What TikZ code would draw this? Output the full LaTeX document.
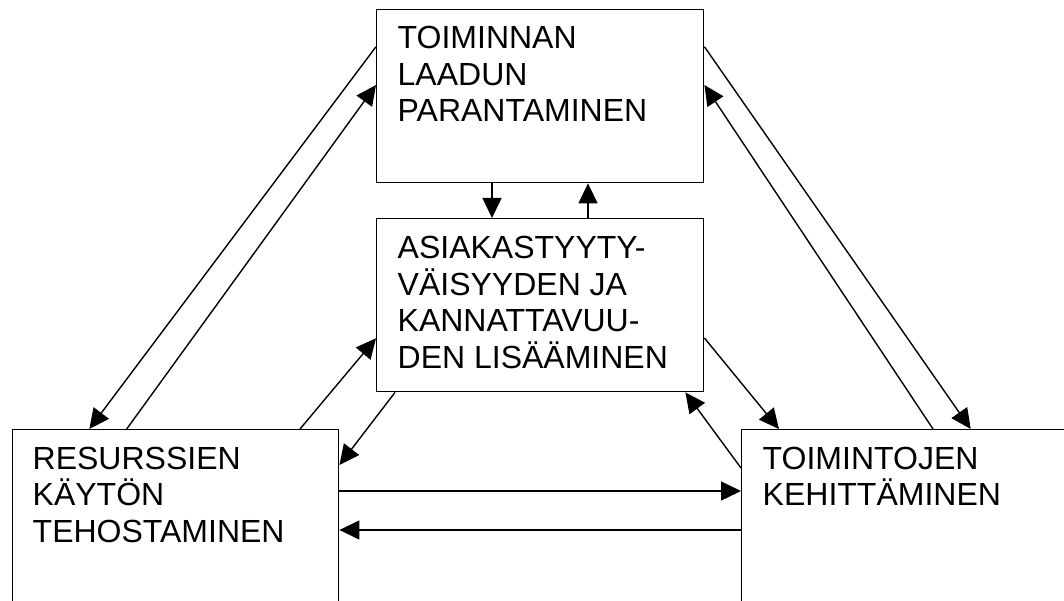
\documentclass[tikz,border=0pt]{standalone}
\usepackage{fontspec}
\setmainfont{Liberation Sans}
\usetikzlibrary{arrows.meta}

\begin{document}
\begin{tikzpicture}[x=1pt, y=-1pt, line width=1.4pt,
    box/.style={draw, rectangle, minimum width=327pt, minimum height=173pt, anchor=north west, inner sep=0pt},
    txt/.style={anchor=base west, align=left, inner sep=0pt, font=\fontsize{32}{36.7}\selectfont},
    arr/.style={-{Triangle[length=20pt, width=19pt]}}]
	\useasboundingbox (0,0) rectangle (1064,601);
	\clip (0,0) rectangle (1064,601);

	% the four boxes, bottom ones run off the page
	\node[box] (laatu) at (376,9) {};
	\node[box] (asiakas) at (376,218) {};
	\node[box, minimum width=326pt, minimum height=230pt] (resurssit) at (12,429) {};
	\node[box, minimum width=360pt, minimum height=230pt] (toiminnot) at (741,429) {};

	% texts hang from the baseline of their last line
	\node[txt] (laatu-t) at ([xshift=21pt, yshift=-112.9pt]laatu.north west) {TOIMINNAN\\LAADUN\\PARANTAMINEN};
	\node[txt] (asiakas-t) at ([xshift=21pt, yshift=-150.6pt]asiakas.north west) {ASIAKASTYYTY-\\VÄISYYDEN JA\\KANNATTAVUU-\\DEN LISÄÄMINEN};
	\node[txt] (resurssit-t) at ([xshift=20pt, yshift=-113.4pt]resurssit.north west) {RESURSSIEN\\KÄYTÖN\\TEHOSTAMINEN};
	\node[txt] (toiminnot-t) at ([xshift=21pt, yshift=-76.7pt]toiminnot.north west) {TOIMINTOJEN\\KEHITTÄMINEN};

	% top <-> middle
	\draw[arr] ([xshift=116pt]laatu.south west) -- ([xshift=116pt]asiakas.north west);
	\draw[arr] ([xshift=212pt]asiakas.north west) -- ([xshift=212pt]laatu.south west);

	% top <-> left and right
	\draw[arr] ([yshift=-37.7pt]laatu.north west) -- ([xshift=77.3pt]resurssit.north west);
	\draw[arr] ([xshift=114.7pt]resurssit.north west) -- ([yshift=-76pt]laatu.north west);
	\draw[arr] ([yshift=-37.7pt]laatu.north east) -- ([xshift=229.7pt]toiminnot.north west);
	\draw[arr] ([xshift=192pt]toiminnot.north west) -- ([yshift=-76pt]laatu.north east);

	% middle <-> left and right
	\draw[arr] ([xshift=288pt]resurssit.north west) -- ([yshift=-120.3pt]asiakas.north west);
	\draw[arr] ([xshift=19pt]asiakas.south west) -- ([yshift=-36pt]resurssit.north east);
	\draw[arr] ([yshift=-120pt]asiakas.north east) -- ([xshift=38pt]toiminnot.north west);
	\draw[arr] ([yshift=-39pt]toiminnot.north west) -- ([xshift=-19pt]asiakas.south east);

	% left <-> right
	\draw[arr] ([yshift=-62pt]resurssit.north east) -- ([yshift=-62pt]toiminnot.north west);
	\draw[arr] ([yshift=-101pt]toiminnot.north west) -- ([yshift=-101pt]resurssit.north east);
\end{tikzpicture}
\end{document}
